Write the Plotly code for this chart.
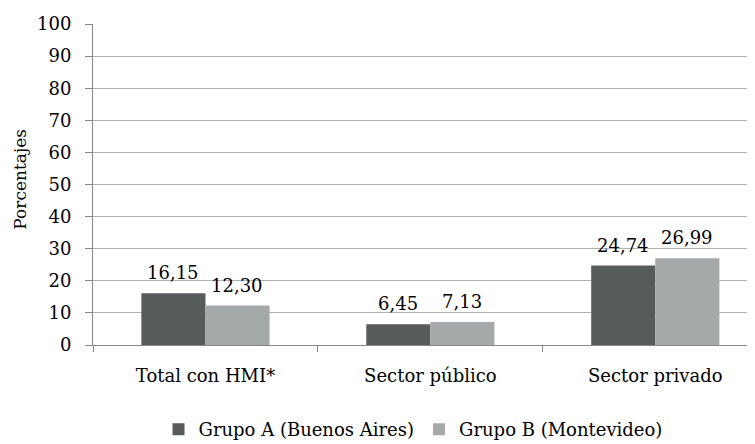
import plotly.graph_objects as go

categories = ["Total con HMI*", "Sector público", "Sector privado"]
grupo_a = [16.15, 6.45, 24.74]
grupo_b = [12.30, 7.13, 26.99]
labels_a = ["16,15", "6,45", "24,74"]
labels_b = ["12,30", "7,13", "26,99"]
series_names = ["Grupo A (Buenos Aires)", "Grupo B (Montevideo)"]
y_ticks = list(range(0, 101, 10))

FONT = "DejaVu Serif"
FS = 18

# page has an 8px body margin, so the figure is sized to fit the 755x444 window
W, H = 747, 436
ML, MR, MT, MB = 85, 3, 16, 99
PW = W - ML - MR
PH = H - MT - MB

fig = go.Figure()
fig.add_trace(go.Bar(
    x=categories, y=grupo_a, name=series_names[0],
    marker=dict(color="#585b5c", line=dict(width=0)),
))
fig.add_trace(go.Bar(
    x=categories, y=grupo_b, name=series_names[1],
    marker=dict(color="#a6a9aa", line=dict(width=0)),
))

annotations = []
for cat, va, la, vb, lb in zip(categories, grupo_a, labels_a, grupo_b, labels_b):
    annotations.append(dict(x=cat, y=va, text=la, showarrow=False, xref="x", yref="y",
                            xshift=-32, yanchor="bottom", yshift=8,
                            font=dict(family=FONT, size=FS, color="#000000")))
    annotations.append(dict(x=cat, y=vb, text=lb, showarrow=False, xref="x", yref="y",
                            xshift=32, yanchor="bottom", yshift=8,
                            font=dict(family=FONT, size=FS, color="#000000")))
annotations.append(dict(text="Porcentajes", x=-(ML - 12) / PW, xref="paper", y=0.515, yref="paper",
                        showarrow=False, textangle=-90, xanchor="center", yanchor="middle",
                        font=dict(family=FONT, size=17, color="#000000")))

fig.update_layout(
    width=W, height=H,
    margin=dict(l=ML, r=MR, t=MT, b=MB, autoexpand=False),
    paper_bgcolor="white", plot_bgcolor="white",
    barmode="group", bargap=0.43, bargroupgap=0,
    font=dict(family=FONT, size=FS, color="#000000"),
    showlegend=True,
    legend=dict(orientation="h", x=(405 - ML) / PW, xanchor="center",
                y=-(421 - 18 - (MT + PH)) / PH, yanchor="top",
                font=dict(family=FONT, size=FS), traceorder="normal"),
    xaxis=dict(
        range=[-0.5, 2.43], automargin=False,
        showline=True, linecolor="#868686", linewidth=1,
        ticks="outside", tickson="boundaries", ticklen=6, tickcolor="#868686",
        showgrid=False, tickfont=dict(family=FONT, size=FS),
        ticklabelstandoff=14,
    ),
    yaxis=dict(
        range=[0, 100], tickvals=y_ticks, automargin=False,
        showline=True, linecolor="#868686", linewidth=1,
        ticks="outside", ticklen=7, tickcolor="#868686",
        showgrid=True, gridcolor="#b0b0b0", gridwidth=1,
        zeroline=False,
        tickfont=dict(family=FONT, size=FS),
        ticklabelstandoff=10,
    ),
    annotations=annotations,
)

fig.write_html("out.html")
